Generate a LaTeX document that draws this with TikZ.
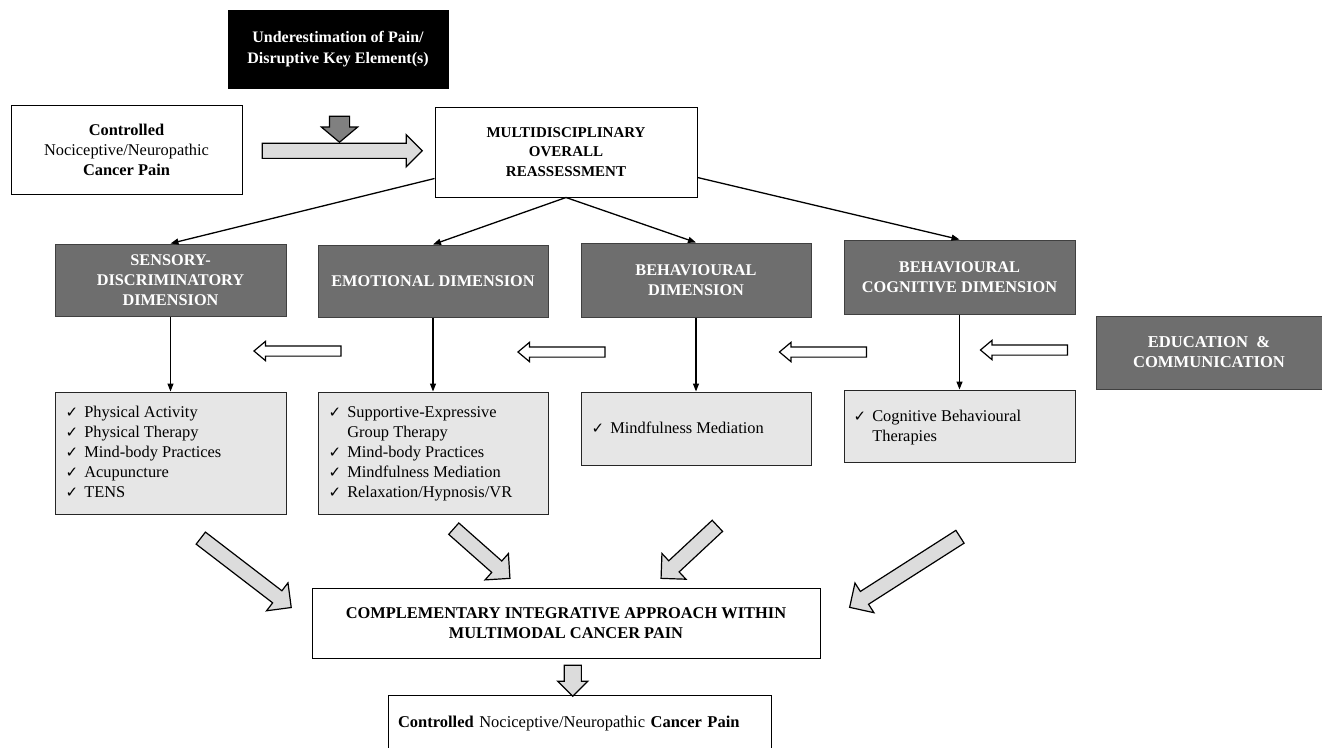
\documentclass[tikz,border=0pt]{standalone}
\usepackage{fontspec}
\setmainfont{Liberation Serif}
\newfontfamily\symfont{DejaVu Sans}
\usetikzlibrary{shapes.arrows,arrows.meta,calc}

\definecolor{dimgray}{HTML}{6E6E6E}
\definecolor{listgray}{HTML}{E6E6E6}
\definecolor{arrowgray}{HTML}{DCDCDC}
\definecolor{headgray}{HTML}{808080}

\newcommand\tick{{\symfont\fontsize{15}{15}\selectfont ✓}}

\begin{document}
\begin{tikzpicture}[x=1pt,y=-1pt,
  every node/.style={font=\fontsize{16.4}{20}\selectfont},
  whitebox/.style={draw=black, line width=1pt, fill=white, align=center, inner sep=0pt},
  darkbox/.style={draw=black!75, line width=1pt, fill=dimgray, text=white,
    font=\fontsize{16.3}{20}\selectfont\bfseries, align=center, inner sep=0pt},
  listbox/.style={draw=black!85, line width=1pt, fill=listgray, inner sep=0pt},
  listtext/.style={anchor=west, inner sep=0pt, align=left},
  link/.style={line width=1.3pt, -{Triangle[length=8pt,width=6pt]}},
  blockarrow/.style={single arrow, draw=black, line width=1.2pt, inner xsep=0pt,
    inner ysep=7pt, fill=arrowgray, single arrow head extend=10pt},
  hollowarrow/.style={single arrow, draw=black, line width=1.2pt, inner xsep=0pt,
    inner ysep=4.5pt, fill=white, single arrow head extend=4.5pt,
    single arrow tip angle=80, minimum height=87pt, rotate=180}
]
\useasboundingbox (0,0) rectangle (1322,747);

% top row
\node[whitebox, fill=black, text=white, font=\fontsize{16}{21}\selectfont\bfseries,
  minimum width=220pt, minimum height=78pt] (under) at (338,49)
  {Underestimation of Pain/\\Disruptive Key Element(s)};
\node[whitebox, minimum width=231pt, minimum height=89pt] (ctrl) at (126.5,149.5)
  {\textbf{Controlled}\\Nociceptive/Neuropathic\\\textbf{Cancer Pain}};
\node[whitebox, font=\fontsize{15}{19.5}\selectfont\bfseries,
  minimum width=262pt, minimum height=90pt] (multi) at (566,152)
  {MULTIDISCIPLINARY\\OVERALL\\REASSESSMENT};

\node[blockarrow, fill=headgray, inner ysep=9.5pt, single arrow head extend=8pt,
  minimum height=26pt, single arrow tip angle=100, rotate=-90] (press) at (339.5,125) {};
\node[blockarrow, inner ysep=7pt, single arrow head extend=8.5pt,
  minimum height=160pt] (flow) at ($(ctrl.east)!0.5!(multi.west)$) {};

% dimensions
\node[darkbox, minimum width=231pt, minimum height=72pt] (sens) at (170.5,280)
  {SENSORY-\\DISCRIMINATORY\\DIMENSION};
\node[darkbox, minimum width=230pt, minimum height=72pt] (emo) at (433,281)
  {EMOTIONAL DIMENSION};
\node[darkbox, minimum width=230pt, minimum height=74pt] (beh) at (696,280)
  {BEHAVIOURAL\\DIMENSION};
\node[darkbox, minimum width=231pt, minimum height=74pt] (cog) at (959.5,277)
  {BEHAVIOURAL\\COGNITIVE DIMENSION};
\node[darkbox, font=\fontsize{16.6}{20}\selectfont\bfseries,
  minimum width=226pt, minimum height=73pt] (edu) at (1209,352.5)
  {EDUCATION \ \&\\COMMUNICATION};

\draw[link] ([yshift=19pt]multi.south west) -- (sens.north);
\draw[link] (multi.south) -- (emo.north);
\draw[link] (multi.south) -- (beh.north);
\draw[link] ([yshift=20pt]multi.south east) -- (cog.north);

% interventions
\node[listbox, minimum width=231pt, minimum height=122pt] (l1) at (170.5,453) {};
\node[listbox, minimum width=230pt, minimum height=122pt] (l2) at (433,453) {};
\node[listbox, minimum width=230pt, minimum height=73pt] (l3) at (696,428.5) {};
\node[listbox, minimum width=231pt, minimum height=72pt] (l4) at (959.5,426) {};

\node[listtext] (t1) at ([xshift=11pt]l1.west) {%
  \begin{tabular}{@{}l@{\hspace{6pt}}l@{}}
  \tick & Physical Activity\\
  \tick & Physical Therapy\\
  \tick & Mind-body Practices\\
  \tick & Acupuncture\\
  \tick & TENS
  \end{tabular}};
\node[listtext] (t2) at ([xshift=11pt]l2.west) {%
  \begin{tabular}{@{}l@{\hspace{6pt}}l@{}}
  \tick & Supportive-Expressive\\
        & Group Therapy\\
  \tick & Mind-body Practices\\
  \tick & Mindfulness Mediation\\
  \tick & Relaxation/Hypnosis/VR
  \end{tabular}};
\node[listtext] (t3) at ([xshift=11pt,yshift=-1pt]l3.west) {%
  \begin{tabular}{@{}l@{\hspace{6pt}}l@{}}
  \tick & Mindfulness Mediation
  \end{tabular}};
\node[listtext] (t4) at ([xshift=10pt,yshift=-1pt]l4.west) {%
  \begin{tabular}{@{}l@{\hspace{6pt}}l@{}}
  \tick & Cognitive Behavioural\\
        & Therapies
  \end{tabular}};

\draw[link] (sens.south) -- (l1.north);
\draw[link] (emo.south) -- (l2.north);
\draw[link] (beh.south) -- (l3.north);
\draw[link] (cog.south) -- (l4.north);

% education feeds every dimension
\node[hollowarrow] (h1) at (300.5,351) {};
\node[hollowarrow] (h2) at (564.5,352) {};
\node[hollowarrow] (h3) at (826,352) {};
\node[hollowarrow] (h4) at (1027,350) {};

% integration
\node[whitebox, font=\fontsize{16.4}{20}\selectfont\bfseries,
  minimum width=508pt, minimum height=70pt] (comp) at (566,623)
  {COMPLEMENTARY INTEGRATIVE APPROACH WITHIN\\MULTIMODAL CANCER PAIN};
\node[whitebox, font=\fontsize{16.5}{20}\selectfont, align=left,
  text width=363pt, inner xsep=10pt, minimum height=58pt] (final) at (579.5,724)
  {\textbf{Controlled} Nociceptive/Neuropathic \textbf{Cancer Pain}};

\node[blockarrow, minimum height=114pt, rotate=-37.5] (d1) at (243,570.5) {};
\node[blockarrow, minimum height=75pt, rotate=-41.5] (d2) at (479,551) {};
\node[blockarrow, minimum height=77pt, rotate=-137] (d3) at (692,549.5) {};
\node[blockarrow, minimum height=131pt, rotate=-147.4] (d4) at (908,570) {};

\node[blockarrow, inner ysep=8pt, single arrow head extend=6.5pt,
  minimum height=31pt, rotate=-90] (down) at ($(comp.south)!0.5!(final.north)$) {};
\end{tikzpicture}
\end{document}
